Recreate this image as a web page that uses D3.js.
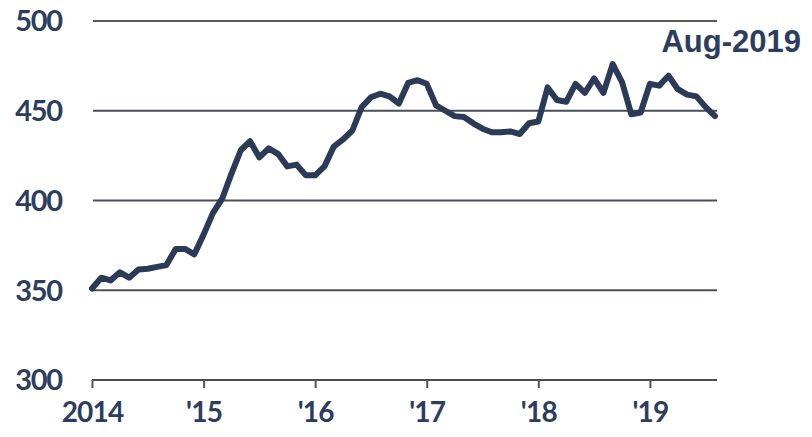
<!DOCTYPE html>
<html>
<head>
<meta charset="utf-8">
<script src="https://cdn.jsdelivr.net/npm/d3@7"></script>
<style>
  html, body { margin: 0; padding: 0; background: #ffffff; }
  svg { display: block; }
</style>
</head>
<body>
<svg id="chart" width="812" height="437"></svg>
<script>
// Monthly index level, Jan 2014 through Aug 2019
const startYear = 2014;
const values = [
  351, 357, 355.5, 360, 357, 361.5, 362, 363, 364, 373, 373, 370,   // 2014
  381, 393, 401, 415, 428, 433, 424, 429, 426, 419, 420, 414,       // 2015
  414, 419, 430, 434, 439, 452, 457.5, 459.5, 458, 454, 465.5, 467, // 2016
  465, 453, 450, 447, 446.5, 443, 440, 438, 438, 438.5, 437, 443,   // 2017
  444, 463, 456, 455, 465, 460, 468, 460, 476, 466, 448, 449,       // 2018
  465, 464, 469.5, 462, 459, 458, 452, 447                          // 2019
];
const yTicks = [300, 350, 400, 450, 500];
const xTickLabels = ["2014", "'15", "'16", "'17", "'18", "'19"];
const endLabel = "Aug-2019";

const svg = d3.select("#chart");
const navy = "#2c3d5e";

const x = d3.scaleLinear().domain([0, values.length - 1]).range([92, 715]);
const y = d3.scaleLinear().domain([300, 500]).range([380, 21]);

// horizontal gridlines (300 is the axis itself)
svg.append("g")
  .selectAll("line")
  .data(yTicks.filter(d => d > 300))
  .join("line")
  .attr("x1", 93).attr("x2", 717)
  .attr("y1", d => y(d)).attr("y2", d => y(d))
  .attr("stroke", d => d === 500 ? "#222" : "#4a4f57")
  .attr("stroke-width", d => d === 500 ? 1.5 : 2.2);

// y-axis labels
svg.append("g")
  .selectAll("text")
  .data(yTicks)
  .join("text")
  .attr("x", 62)
  .attr("y", d => y(d))
  .attr("dy", "0.36em")
  .attr("text-anchor", "end")
  .attr("font-family", "Lato, 'Open Sans', sans-serif")
  .attr("font-weight", 700)
  .attr("font-size", 29)
  .attr("letter-spacing", -1.2)
  .attr("fill", navy)
  .text(d => d);

// bottom axis with yearly ticks
const xAxis = d3.axisBottom(x)
  .tickValues(xTickLabels.map((_, i) => i * 12))
  .tickFormat((d, i) => xTickLabels[i])
  .tickSize(8)
  .tickPadding(14);

const axisG = svg.append("g")
  .attr("transform", `translate(0,${y(300)})`)
  .call(xAxis);
axisG.select(".domain")
  .attr("d", `M${x(0)},0H717`)
  .attr("stroke", "#111")
  .attr("stroke-width", 1.5);
axisG.selectAll(".tick line")
  .attr("stroke", "#555")
  .attr("stroke-width", 2);
axisG.selectAll(".tick text")
  .attr("font-family", "Lato, 'Open Sans', sans-serif")
  .attr("font-weight", 700)
  .attr("font-size", 28)
  .attr("letter-spacing", -0.8)
  .attr("fill", navy);

// the index line
const line = d3.line()
  .x((d, i) => x(i))
  .y(d => y(d));

svg.append("path")
  .datum(values)
  .attr("d", line)
  .attr("fill", "none")
  .attr("stroke", "#2b3a56")
  .attr("stroke-width", 6)
  .attr("stroke-linejoin", "round")
  .attr("stroke-linecap", "round");

// latest-month label
svg.append("text")
  .attr("x", 801)
  .attr("y", 52)
  .attr("text-anchor", "end")
  .attr("font-family", "'Liberation Sans', Arial, sans-serif")
  .attr("font-weight", 700)
  .attr("font-size", 31)
  .attr("fill", navy)
  .text(endLabel);
</script>
</body>
</html>
